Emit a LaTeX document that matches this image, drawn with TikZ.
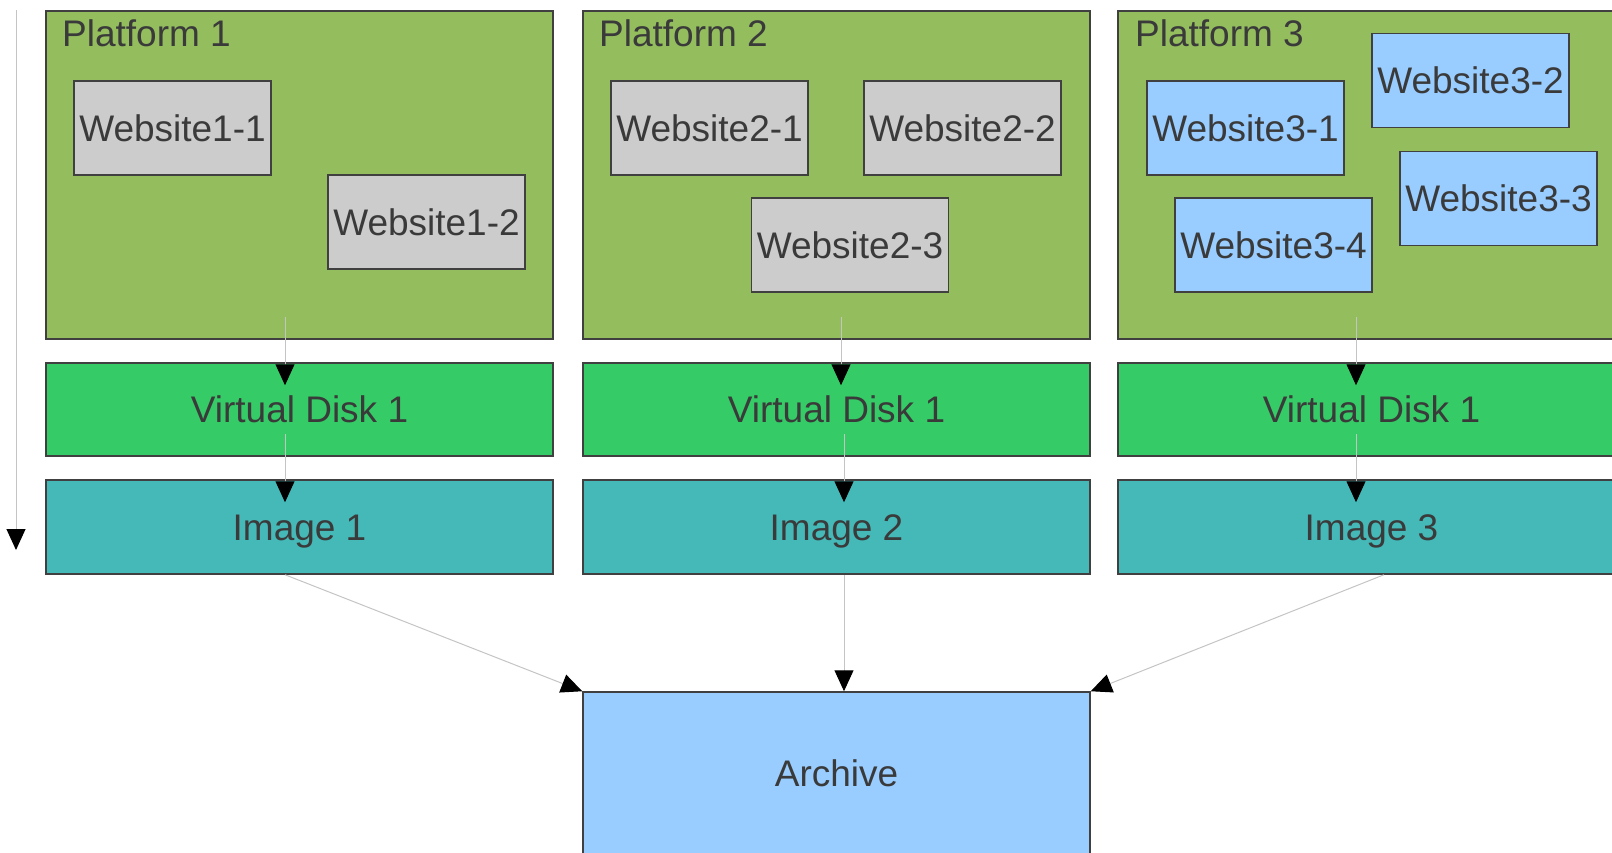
\documentclass[tikz,border=0pt]{standalone}
\usepackage{fontspec}
\setmainfont{Liberation Sans}
\usetikzlibrary{arrows.meta,calc}
\definecolor{platg}{HTML}{94BD5E}
\definecolor{diskg}{HTML}{35CB67}
\definecolor{imgt}{HTML}{45B8B8}
\definecolor{webg}{HTML}{CCCCCC}
\definecolor{webb}{HTML}{99CCFF}
\definecolor{edgec}{HTML}{404040}
\definecolor{txtc}{HTML}{3A3A3A}
\definecolor{linec}{HTML}{C4C4C4}
\tikzset{
  box/.style={draw=edgec, line width=1.5pt, inner sep=0pt, text=txtc,
    font=\fontsize{37}{44}\selectfont, text height=26.5pt, text depth=0pt},
  platbox/.style={box, fill=platg, minimum width=507pt, minimum height=328pt},
  diskbox/.style={box, fill=diskg, minimum width=507pt, minimum height=93pt},
  imgbox/.style={box, fill=imgt, minimum width=507pt, minimum height=94pt},
  webgrey/.style={box, fill=webg, minimum width=197pt, minimum height=94pt},
  webblue/.style={box, fill=webb, minimum width=197pt, minimum height=94pt},
  arcbox/.style={box, fill=webb, minimum width=507pt, minimum height=162pt},
  plabel/.style={anchor=base west, inner sep=0pt, text=txtc, font=\fontsize{37}{44}\selectfont},
  arr/.style={draw=linec, line width=1pt, -{Triangle[width=19pt,length=21pt,fill=black,color=black]}}
}
\begin{document}
\begin{tikzpicture}[x=1pt,y=-1pt]
\useasboundingbox (0,0) rectangle (1612,853);
\clip (0,0) rectangle (1612,853);
% platforms
\node[platbox] (p1) at (299.5,175) {};
\node[platbox] (p2) at (836.5,175) {};
\node[platbox] (p3) at (1371.5,175) {};
\node[plabel] (pl1) at (62,47) {Platform 1};
\node[plabel] (pl2) at (599,47) {Platform 2};
\node[plabel] (pl3) at (1135,47) {Platform 3};
% websites
\node[webgrey] (w11) at (172.5,128) {Website1-1};
\node[webgrey] (w12) at (426.5,222) {Website1-2};
\node[webgrey] (w21) at (709.5,128) {Website2-1};
\node[webgrey] (w22) at (962.5,128) {Website2-2};
\node[webgrey] (w23) at (850,245) {Website2-3};
\node[webblue] (w31) at (1245.5,128) {Website3-1};
\node[webblue] (w32) at (1470.5,80.5) {Website3-2};
\node[webblue] (w33) at (1498.5,198.5) {Website3-3};
\node[webblue] (w34) at (1273.5,245) {Website3-4};
% disks and images
\node[diskbox] (v1) at (299.5,409.5) {Virtual Disk 1};
\node[diskbox] (v2) at (836.5,409.5) {Virtual Disk 1};
\node[diskbox] (v3) at (1371.5,409.5) {Virtual Disk 1};
\node[imgbox] (i1) at (299.5,527) {Image 1};
\node[imgbox] (i2) at (836.5,527) {Image 2};
\node[imgbox] (i3) at (1371.5,527) {Image 3};
% archive
\node[arcbox] (ar) at (836.5,773) {Archive};
% column coordinates
\coordinate (c1) at (285,0);
\coordinate (c2) at (841,0);
\coordinate (c2b) at (844,0);
\coordinate (c3) at (1356,0);
\coordinate (c3b) at (1384,0);
% left arrow
\coordinate (ltop) at (16,10);
\coordinate (lbot) at (16,550);
\draw[arr] (ltop) -- (lbot);
% platform -> disk -> image
\draw[arr] ($(p1.south -| c1)+(0,-23)$) -- ($(v1.north -| c1)+(0,23)$);
\draw[arr] ($(v1.south -| c1)+(0,-23)$) -- ($(i1.north -| c1)+(0,23)$);
\draw[arr] ($(p2.south -| c2)+(0,-23)$) -- ($(v2.north -| c2)+(0,23)$);
\draw[arr] ($(v2.south -| c2b)+(0,-23)$) -- ($(i2.north -| c2b)+(0,23)$);
\draw[arr] ($(p3.south -| c3)+(0,-23)$) -- ($(v3.north -| c3)+(0,23)$);
\draw[arr] ($(v3.south -| c3)+(0,-23)$) -- ($(i3.north -| c3)+(0,23)$);
% image -> archive
\draw[arr] (i1.south -| c1) -- (ar.north west);
\draw[arr] (i2.south -| c2b) -- (ar.north -| c2b);
\draw[arr] (i3.south -| c3b) -- (ar.north east);
\end{tikzpicture}
\end{document}
